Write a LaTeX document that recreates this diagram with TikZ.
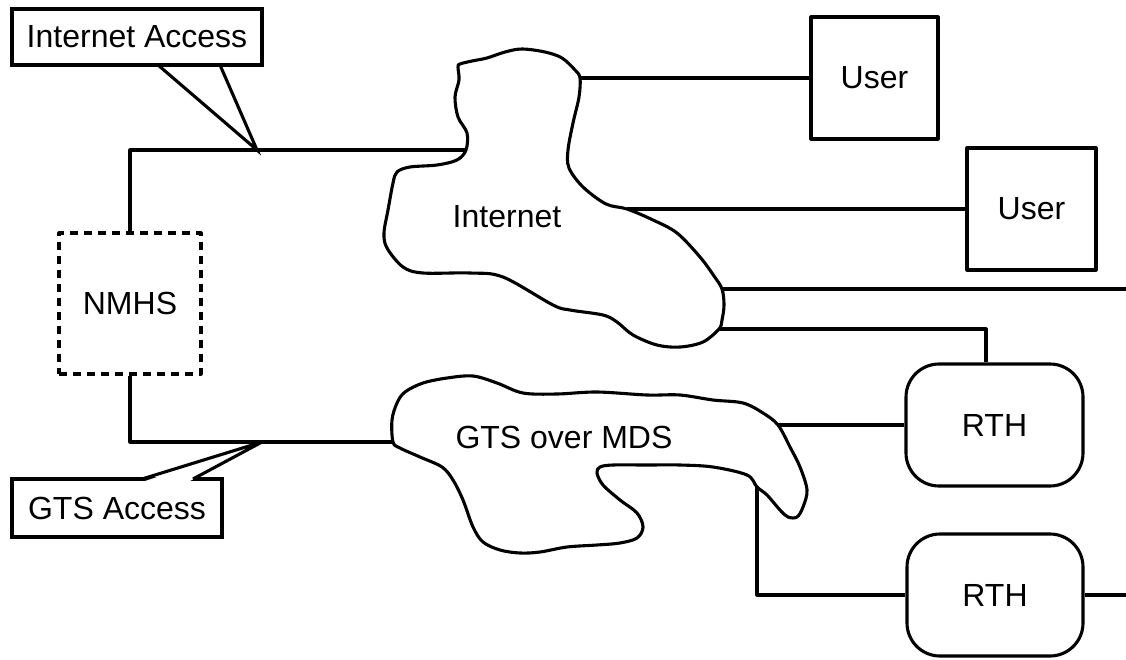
\documentclass[tikz,border=0pt]{standalone}
\usepackage{fontspec}
\setmainfont{Liberation Sans}
\usetikzlibrary{calc}
\begin{document}
\begin{tikzpicture}[x=1pt,y=-1pt,
  line width=3.1pt, line join=round,
  every node/.style={font=\fontsize{32}{36}\selectfont, inner sep=0pt},
  userbox/.style={draw, rectangle, minimum width=127pt, minimum height=122pt},
  rthbox/.style={draw, rectangle, rounded corners=33pt, minimum width=177pt, minimum height=122pt},
  nmhsbox/.style={draw, rectangle, dash pattern=on 8pt off 6pt, minimum width=142pt, minimum height=141pt},
  labelbox/.style={draw, rectangle, line join=miter},
  cloudline/.style={fill=white}
]
\useasboundingbox (0,0) rectangle (1126,659);

% --- clouds -------------------------------------------------------------
\draw[cloudline] plot[smooth cycle, tension=0.55] coordinates {
  (460,64) (472,61) (487,58) (505,52) (522,49) (545,52) (562,58) (575,70)
  (580,78) (579,97) (573,123) (568,150) (569,168) (583,187) (606,204)
  (627,209) (653,220) (677,233) (700,257) (714,276) (722,289) (724,305)
  (722,320) (719,329) (703,342) (680,347) (657,345) (633,335) (617,322)
  (603,315) (570,310) (553,305) (503,277) (470,273) (423,273) (403,267)
  (387,248) (384,233) (388,210) (393,183) (397,172) (410,167) (437,165)
  (457,160) (466,150) (467,133) (458,117) (455,97) (459,80) (458,67)};
\coordinate (inet-w)  at (466,150);
\coordinate (inet-n)  at (580,78);
\coordinate (inet-e)  at (627,209);
\coordinate (inet-se) at (722,289);
\coordinate (inet-s)  at (719,329);
\node (internet) at (507,217) {Internet};

\draw[cloudline] plot[smooth cycle, tension=0.55] coordinates {
  (405,392) (423,383) (447,378) (473,376) (497,383) (523,393) (557,394)
  (597,392) (647,395) (680,395) (713,400) (743,403) (763,413) (778,425)
  (790,447) (800,467) (807,490) (803,507) (797,517) (788,517) (780,510)
  (767,495) (757,487) (747,475) (713,467) (680,465) (647,465) (613,465)
  (600,467) (597,473) (603,485) (620,500) (637,513) (643,527) (637,538)
  (620,543) (597,545) (567,547) (540,552) (520,553) (500,550) (483,542)
  (473,527) (463,500) (453,480) (442,467) (420,457) (400,448) (393,442)
  (392,420) (397,403)};
\coordinate (gts-w)  at (393,442);
\coordinate (gts-e)  at (778,425);
\coordinate (gts-s)  at (757,487);
\node (gts) at (564,437) {GTS over MDS};

% --- boxes --------------------------------------------------------------
\node[nmhsbox] (nmhs)  at (130,303.5) {NMHS};
\node[userbox] (user1) at (874.5,78)  {User};
\node[userbox, minimum width=129pt] (user2) at (1031.5,209) {User};
\node[rthbox]  (rth1)  at (994.5,425) {RTH};
\node[rthbox, minimum width=176pt] (rth2) at (995,595) {RTH};

% --- links --------------------------------------------------------------
\coordinate (iatip)  at (257,150);
\coordinate (gtstip) at (262,442);
\coordinate (edge1)  at (1126,289);
\coordinate (edge2)  at (1126,595);

\draw (nmhs.north) |- (inet-w);
\draw (nmhs.south) |- (gts-w);
\draw (inet-n) -- (inet-n -| user1.west);
\draw (inet-e) -- (inet-e -| user2.west);
\draw (inet-se) -- (edge1);
\draw (inet-s) -| ([xshift=-8.5pt]rth1.north);
\draw (gts-e) -- (gts-e -| rth1.west);
\draw (gts-s) |- (rth2.west);
\draw (rth2.east) -- (edge2);

% --- callouts -----------------------------------------------------------
\node[labelbox, minimum width=250pt, minimum height=56pt] (ia) at (137,37) {Internet Access};
\draw[line join=miter] (158,65) -- (iatip) -- (220,65);

\node[labelbox, minimum width=210pt, minimum height=58pt] (ga) at (117,508) {GTS Access};
\fill[white] (145,481) -- (gtstip) -- (190,481) -- cycle;
\draw[line join=miter] (142,479) -- (gtstip) -- (193,479);
\end{tikzpicture}
\end{document}
